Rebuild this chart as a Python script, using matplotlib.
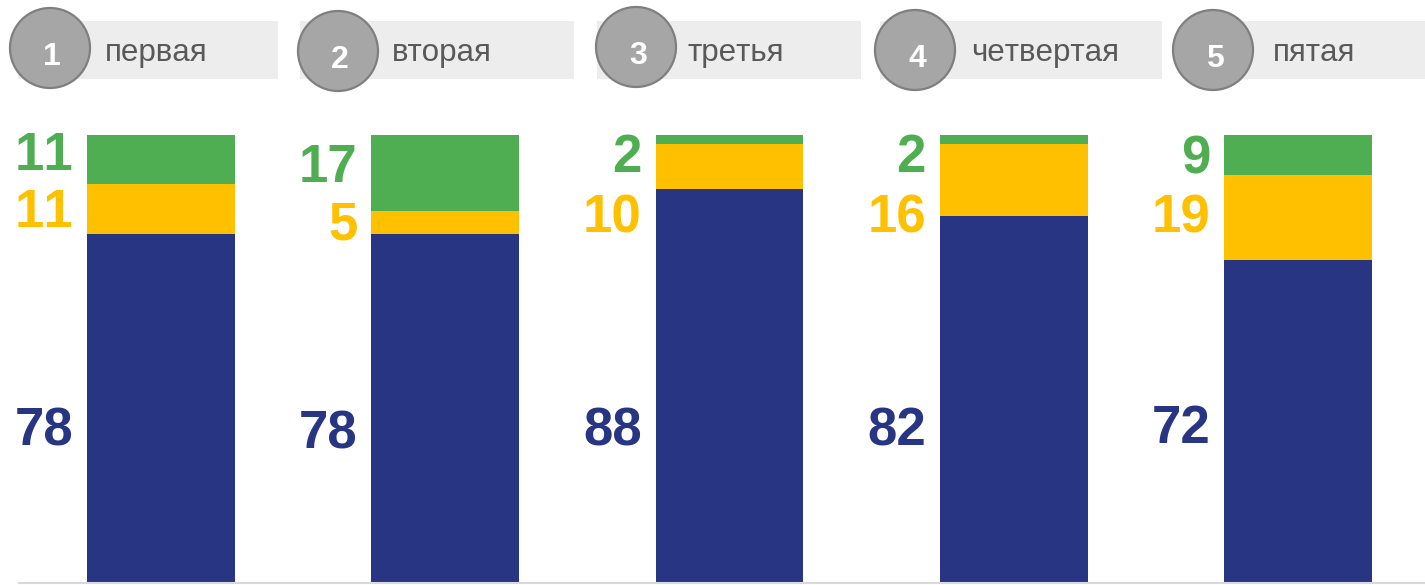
import matplotlib
matplotlib.use("Agg")
import matplotlib.pyplot as plt
from matplotlib.patches import Circle, Rectangle

# Disable pair kerning so that digit pairs such as "11" keep their full spacing
plt.rcParams["text.kerning_factor"] = 20

# Data
categories = ["первая", "вторая", "третья", "четвертая", "пятая"]
numbers = ["1", "2", "3", "4", "5"]
blue_vals = [78, 78, 88, 82, 72]
yellow_vals = [11, 5, 10, 16, 19]
green_vals = [11, 17, 2, 2, 9]

# Colours
BLUE = "#283583"
YELLOW = "#FFC000"
GREEN = "#4FAE52"
HEAD_BG = "#EDEDED"
CIRCLE_FILL = "#A6A6A6"
CIRCLE_EDGE = "#7F7F7F"
HEAD_TEXT = "#595959"

# Baseline positions (in value units) of the value labels
blue_label_y = [30.8, 30.1, 30.8, 30.8, 31.2]
yellow_label_y = [79.5, 76.6, 78.3, 78.3, 78.3]
green_label_y = [92.2, 89.5, 91.7, 91.7, 91.5]

W, H = 1425, 585
fig = plt.figure(figsize=(W / 100, H / 100), dpi=100)
fig.patch.set_facecolor("white")

FONT = "Liberation Sans"

# ---- Stacked bars ----
left_px, bottom_px, top_px = 19, 2, 135
ax = fig.add_axes([left_px / W, bottom_px / H, (W - left_px) / W, (H - bottom_px - top_px) / H])
bar_w = 0.52
x = list(range(len(categories)))
ax.bar(x, blue_vals, width=bar_w, color=BLUE, linewidth=0)
ax.bar(x, yellow_vals, width=bar_w, bottom=blue_vals, color=YELLOW, linewidth=0)
bottoms_g = [b + yv for b, yv in zip(blue_vals, yellow_vals)]
ax.bar(x, green_vals, width=bar_w, bottom=bottoms_g, color=GREEN, linewidth=0)

ax.set_xlim(-0.5, 4.447)
ax.set_ylim(0, 100)
for side in ("top", "right", "left"):
    ax.spines[side].set_visible(False)
ax.spines["bottom"].set_color("#D9D9D9")
ax.spines["bottom"].set_linewidth(1.5)
ax.set_xticks([])
ax.set_yticks([])

def value_label(xi, y, val, color):
    ax.annotate(str(val), xy=(xi - bar_w / 2, y), xytext=(-10, 0),
                textcoords="offset points", ha="right", va="baseline",
                fontsize=38, fontweight="bold", color=color, family=FONT,
                annotation_clip=False)

for i in x:
    value_label(i, blue_label_y[i], blue_vals[i], BLUE)
    value_label(i, yellow_label_y[i], yellow_vals[i], YELLOW)
    value_label(i, green_label_y[i], green_vals[i], GREEN)

# ---- Header badges ----
hx = fig.add_axes([0, 0, 1, 1], zorder=5)
hx.set_xlim(0, W)
hx.set_ylim(H, 0)
hx.axis("off")
hx.patch.set_alpha(0)

rect_spans = [(18, 278), (300, 574), (597, 861), (880, 1162), (1190, 1425)]
circle_centers = [(50, 48), (338, 51), (636, 47), (915, 50), (1213, 50)]
text_x = [105, 392, 688, 971, 1273]
radius = 40

for i in x:
    x0, x1 = rect_spans[i]
    hx.add_patch(Rectangle((x0, 21), x1 - x0, 58, facecolor=HEAD_BG, edgecolor="none"))
    cx, cy = circle_centers[i]
    hx.add_patch(Circle((cx, cy), radius, facecolor=CIRCLE_FILL, edgecolor=CIRCLE_EDGE,
                        linewidth=1.6, zorder=3))
    hx.text(cx + 2, cy + 17, numbers[i], ha="center", va="baseline", fontsize=23,
            fontweight="bold", color="white", family=FONT, zorder=4)
    hx.text(text_x[i], 61, categories[i], ha="left", va="baseline", fontsize=22.5,
            color=HEAD_TEXT, family=FONT, zorder=4)

fig.savefig("out.png", dpi=100, facecolor="white")
